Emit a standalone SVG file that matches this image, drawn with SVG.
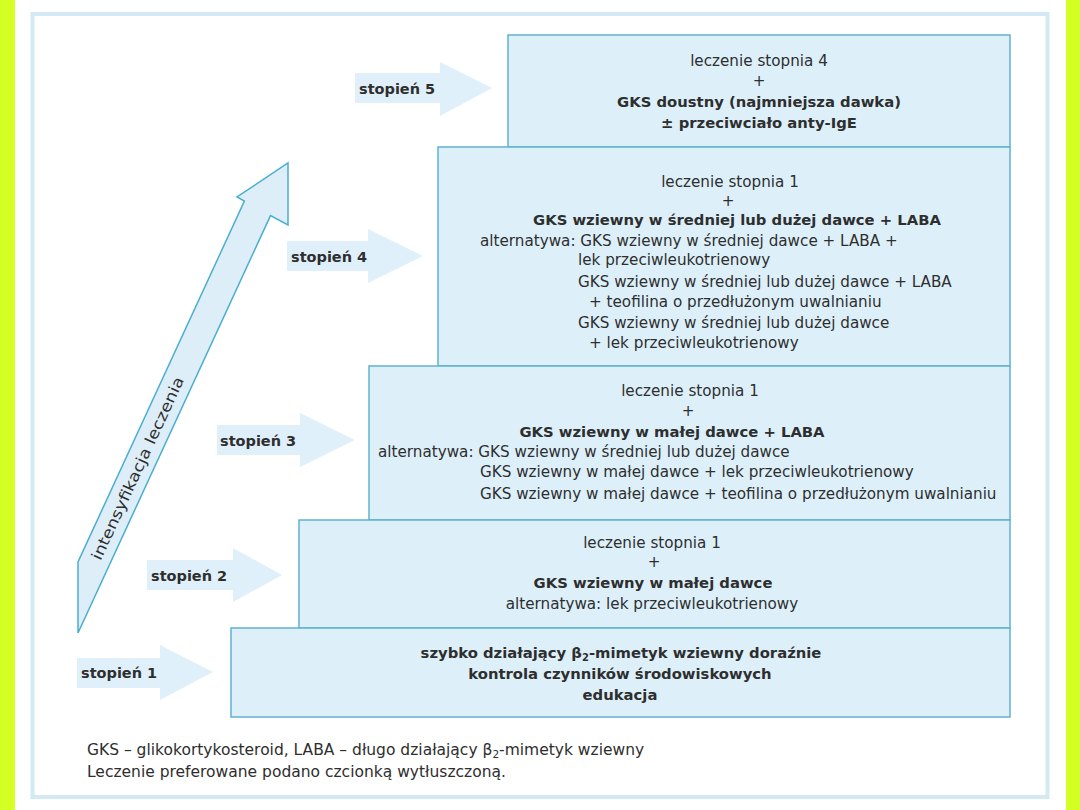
<svg xmlns="http://www.w3.org/2000/svg" width="1080" height="810" viewBox="0 0 1080 810">
<style>
.box{fill:#ddf0fa;stroke:#5fb2d0;stroke-width:1.5}
.step{fill:#e0f0fa;stroke:none}
.t{font-family:"DejaVu Sans","Open Sans",sans-serif;font-size:15.2px;fill:#2e2e2e}
.b{font-weight:bold;font-size:14.8px}
.m{text-anchor:middle}
.f{font-size:15.5px}
.lbl{font-family:"DejaVu Sans","Open Sans",sans-serif;font-size:14.5px;font-weight:bold;fill:#2e2e2e}
</style>
<rect x="0" y="0" width="1080" height="810" fill="#ffffff"/>
<rect x="0" y="0" width="15" height="810" fill="#d4ff22"/>
<rect x="1066" y="0" width="14" height="810" fill="#d4ff22"/>
<rect x="32.5" y="14" width="1015" height="783" fill="none" stroke="#d3e9f4" stroke-width="4"/>

<g id="connectors">
<polygon id="intensification" points="78,633 270.5,215.6 288,225 288,163 237,197 244.4,201.1 78,562" fill="#ddeef8" stroke="#4aaed0" stroke-width="1.5" stroke-linejoin="miter"/>
<text class="t" x="0" y="0" font-size="16" text-anchor="middle" textLength="200" lengthAdjust="spacingAndGlyphs" transform="translate(137,468) rotate(-65.25)" dy="6">intensyfikacja leczenia</text>
<polygon class="step" points="355,73 440,73 440,62 492,88 440,116 440,103 355,103"/>
<polygon class="step" points="287,241 368,241 368,229 423,256 368,283 368,271 287,271"/>
<polygon class="step" points="217,425 300,425 300,413 355,440 300,467 300,455 217,455"/>
<polygon class="step" points="147,560 233,560 233,548 282,575 233,602 233,590 147,590"/>
<polygon class="step" points="77,658 160,658 160,645 213,672 160,700 160,688 77,688"/>
</g>

<g id="stopien5">
<rect class="box" x="508" y="35" width="502" height="112"/>
<text class="lbl" x="359" y="94">stopień 5</text>
<text class="t m" x="759" y="66">leczenie stopnia 4</text>
<text class="t m" x="759" y="86">+</text>
<text class="t m b" x="759" y="107">GKS doustny (najmniejsza dawka)</text>
<text class="t m b" x="759" y="128">± przeciwciało anty-IgE</text>
</g>

<g id="stopien4">
<rect class="box" x="438" y="147" width="572" height="219"/>
<text class="lbl" x="291" y="262">stopień 4</text>
<text class="t m" x="730" y="187">leczenie stopnia 1</text>
<text class="t m" x="728" y="205.5">+</text>
<text class="t m b" x="737" y="225">GKS wziewny w średniej lub dużej dawce + LABA</text>
<text class="t" x="480" y="246">alternatywa: GKS wziewny w średniej dawce + LABA +</text>
<text class="t" x="578" y="265">lek przeciwleukotrienowy</text>
<text class="t" x="578" y="287">GKS wziewny w średniej lub dużej dawce + LABA</text>
<text class="t" x="589" y="307">+ teofilina o przedłużonym uwalnianiu</text>
<text class="t" x="578" y="328">GKS wziewny w średniej lub dużej dawce</text>
<text class="t" x="589" y="348">+ lek przeciwleukotrienowy</text>
</g>

<g id="stopien3">
<rect class="box" x="369" y="366" width="641" height="154"/>
<text class="lbl" x="220" y="446">stopień 3</text>
<text class="t m" x="690" y="396">leczenie stopnia 1</text>
<text class="t m" x="688" y="416">+</text>
<text class="t m b" x="672" y="437">GKS wziewny w małej dawce + LABA</text>
<text class="t" x="378" y="457">alternatywa: GKS wziewny w średniej lub dużej dawce</text>
<text class="t" x="480" y="477">GKS wziewny w małej dawce + lek przeciwleukotrienowy</text>
<text class="t" x="480" y="499">GKS wziewny w małej dawce + teofilina o przedłużonym uwalnianiu</text>
</g>

<g id="stopien2">
<rect class="box" x="299" y="520" width="711" height="108"/>
<text class="lbl" x="151" y="581">stopień 2</text>
<text class="t m" x="652" y="548">leczenie stopnia 1</text>
<text class="t m" x="654" y="567">+</text>
<text class="t m b" x="653" y="588">GKS wziewny w małej dawce</text>
<text class="t m" x="652" y="609">alternatywa: lek przeciwleukotrienowy</text>
</g>

<g id="stopien1">
<rect class="box" x="231" y="628" width="779" height="89"/>
<text class="lbl" x="81" y="678">stopień 1</text>
<text class="t m b" x="621" y="658">szybko działający β<tspan font-size="10" dy="3">2</tspan><tspan dy="-3">-mimetyk wziewny doraźnie</tspan></text>
<text class="t m b" x="620" y="679">kontrola czynników środowiskowych</text>
<text class="t m b" x="620" y="700">edukacja</text>
</g>

<g id="footer">
<text class="t f" x="87" y="755">GKS – glikokortykosteroid, LABA – długo działający β<tspan font-size="10.5" dy="3">2</tspan><tspan dy="-3">-mimetyk wziewny</tspan></text>
<text class="t f" x="87" y="777">Leczenie preferowane podano czcionką wytłuszczoną.</text>
</g>
</svg>
